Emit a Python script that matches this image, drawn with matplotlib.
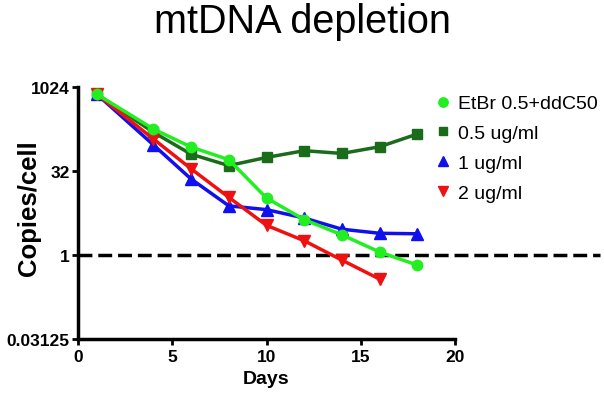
import matplotlib
matplotlib.use("Agg")
import matplotlib.pyplot as plt
from matplotlib.ticker import FixedLocator, FixedFormatter

plt.rcParams['font.family'] = ['Liberation Sans', 'DejaVu Sans']

days = [1, 4, 6, 8, 10, 12, 14, 16, 18]
days_red = [1, 4, 6, 8, 10, 12, 14, 16]
etbr_ddc = [760, 181, 86, 51, 10.5, 4.3, 2.3, 1.13, 0.66]
ug05 = [760, 158, 64, 40, 56, 74, 66, 87, 147]
ug1 = [760, 94, 23, 7.6, 6.5, 4.6, 2.9, 2.45, 2.4]
ug2 = [760, 120, 35, 10.8, 3.4, 1.8, 0.81, 0.37]
labels = ["EtBr 0.5+ddC50", "0.5 ug/ml", "1 ug/ml", "2 ug/ml"]
yticks = [0.03125, 1, 32, 1024]
ytick_labels = ["0.03125", "1", "32", "1024"]
xticks = [0, 5, 10, 15, 20]

fig = plt.figure(figsize=(6.04, 4.02), dpi=100)
ax = fig.add_axes([78/604, 1-340/402, (455-78)/604, (340-88)/402])

lw = 2.5
ax.plot(days, etbr_ddc, color='#22ee22', marker='o', ms=7.5, lw=lw, label=labels[0], zorder=5)
ax.plot(days, ug05, color='#1a6b1a', marker='s', ms=7, lw=lw, label=labels[1], zorder=3)
ax.plot(days, ug1, color='#1010ee', marker='^', ms=8, lw=lw, label=labels[2], zorder=4)
ax.plot(days_red, ug2, color='#ee1111', marker='v', ms=8, lw=lw, label=labels[3], zorder=4)

ax.axhline(1, xmin=0, xmax=(600-78)/(455-78), color='black', lw=2.5, ls=(0, (4, 1.7)),
           clip_on=False, zorder=2)

ax.set_yscale('log', base=2)
ax.set_ylim(0.03125, 1024)
ax.set_xlim(0, 20)
ax.yaxis.set_major_locator(FixedLocator(yticks))
ax.yaxis.set_major_formatter(FixedFormatter(ytick_labels))
ax.yaxis.set_minor_locator(FixedLocator([]))
ax.set_xticks(xticks)
ax.set_xticklabels([str(x) for x in xticks])

for s in ['top', 'right']:
    ax.spines[s].set_visible(False)
for s in ['left', 'bottom']:
    ax.spines[s].set_linewidth(2.5)
ax.tick_params(axis='both', direction='out', length=4, width=2, labelsize=12.5)
ax.tick_params(axis='x', pad=3)
ax.tick_params(axis='y', pad=2)
for t in ax.get_xticklabels() + ax.get_yticklabels():
    t.set_fontweight('bold')

fig.text(266/604, 1-380/402, "Days", fontsize=14, fontweight='bold', ha='center', va='center')
fig.text(29/604, 1-208/402, "Copies/cell", fontsize=18.5, fontweight='bold',
         ha='center', va='center', rotation=90)
fig.text(0.5, 0.945, "mtDNA depletion", ha='center', va='center', fontsize=28.5)

ax.legend(loc='upper left', bbox_to_anchor=(0.93, 1.0), frameon=False, fontsize=14,
          handlelength=0.7, handletextpad=0.4, labelspacing=0.63, borderaxespad=0,
          markerscale=0.9)
leg = ax.get_legend()
for h in leg.legend_handles:
    h.set_linestyle('none')

fig.savefig("out.png", dpi=100)
